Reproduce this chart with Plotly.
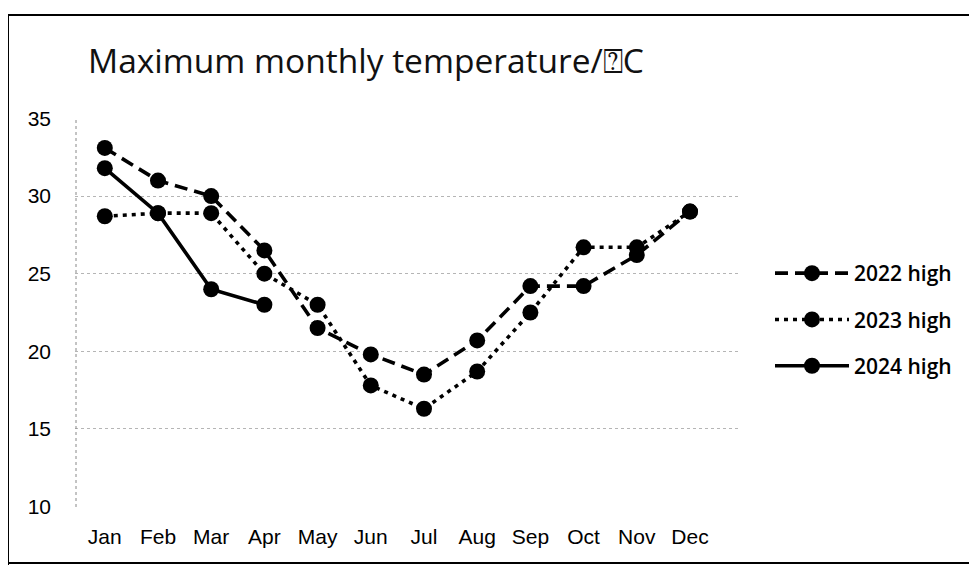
import plotly.graph_objects as go

months = ["Jan", "Feb", "Mar", "Apr", "May", "Jun", "Jul", "Aug", "Sep", "Oct", "Nov", "Dec"]
high_2022 = [33.1, 31.0, 30.0, 26.5, 21.5, 19.8, 18.5, 20.7, 24.2, 24.2, 26.2, 29.0]
high_2023 = [28.7, 28.9, 28.9, 25.0, 23.0, 17.8, 16.3, 18.7, 22.5, 26.7, 26.7, 29.0]
high_2024 = [31.8, 28.9, 24.0, 23.0]
y_ticks = [10, 15, 20, 25, 30, 35]

# page body has an 8px margin, so the figure is slightly smaller than the window
W, H = 969, 557
L, R, T, B = 67, 237, 110, 58
pw = W - L - R
ph = H - T - B


def px(X):
    return (X - L) / pw


def py(Y):
    return ((H - B) - Y) / ph


fig = go.Figure()
series = [
    ("2022 high", high_2022, "13px,7px"),
    ("2023 high", high_2023, "4px,5px"),
    ("2024 high", high_2024, "solid"),
]
for name, vals, dash in series:
    fig.add_trace(go.Scatter(
        x=months[:len(vals)], y=vals, name=name, mode="lines+markers",
        line=dict(color="black", width=3.6, dash=dash),
        marker=dict(color="black", size=16, symbol="circle"),
        legendgroup=name,
    ))

border = dict(color="black", width=2)
fig.add_shape(type="line", xref="paper", yref="paper", x0=px(0), x1=px(W), y0=py(7), y1=py(7), line=border)
fig.add_shape(type="line", xref="paper", yref="paper", x0=px(0), x1=px(0), y0=py(7), y1=py(H), line=border)
fig.add_shape(type="line", xref="paper", yref="paper", x0=px(0), x1=px(W), y0=py(555), y1=py(555), line=border)
# dotted y-axis line
fig.add_shape(type="line", xref="paper", yref="paper", x0=px(L + 1), x1=px(L + 1), y0=0, y1=1,
              line=dict(color="#888888", width=1, dash="dot"))

fig.update_layout(
    width=W, height=H,
    margin=dict(l=L, r=R, t=T, b=B, pad=0),
    paper_bgcolor="white", plot_bgcolor="white",
    title=dict(text="Maximum monthly temperature/\u2370C", x=80 / W, xanchor="left",
               y=1 - 53.5 / H, yanchor="middle",
               font=dict(family="Open Sans, Liberation Sans, sans-serif", size=33.5, color="#111")),
    font=dict(family="Liberation Sans, sans-serif", color="black"),
    xaxis=dict(type="category", range=[-0.56, 11.94], showgrid=False, zeroline=False,
               showline=False, ticks="",
               tickfont=dict(size=21, family="Liberation Sans, Arial, sans-serif", color="black"),
               ticklabelstandoff=15),
    yaxis=dict(range=[9.97, 35.03], tickvals=y_ticks, showgrid=True, gridcolor="#b5b5b5",
               griddash="dot", gridwidth=1, zeroline=False, showline=False,
               ticks="", tickfont=dict(size=21, family="Liberation Sans, Arial, sans-serif", color="black"),
               ticklabelstandoff=23),
    legend=dict(x=px(762), xanchor="left", y=py(245), yanchor="top",
                font=dict(size=21, family="Open Sans, Liberation Sans, sans-serif", color="black", weight=600),
                tracegroupgap=16, bgcolor="rgba(0,0,0,0)", itemwidth=74),
    showlegend=True,
)

fig.write_html("out.html")
